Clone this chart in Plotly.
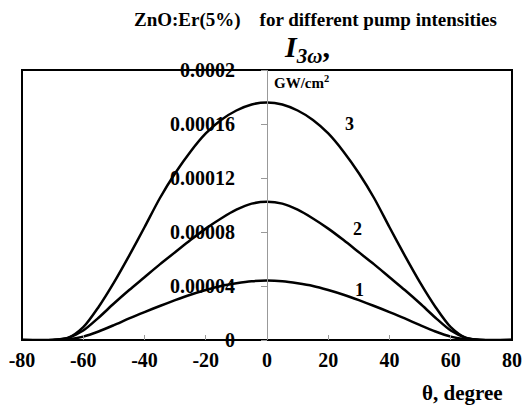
import plotly.graph_objects as go

theta = [-80, -70, -65, -60, -55, -50, -45, -40, -35, -30, -25, -20, -15, -10, -5, 0,
         5, 10, 15, 20, 25, 30, 35, 40, 45, 50, 55, 60, 65, 70, 80]

half1 = [0.44, 0.435, 0.42, 0.40, 0.37, 0.335, 0.295, 0.252, 0.207, 0.16, 0.11, 0.063, 0.025, 0.005, 0.0, 0.0]
half2 = [1.024, 1.01, 0.965, 0.90, 0.825, 0.74, 0.65, 0.56, 0.465, 0.37, 0.27, 0.165, 0.07, 0.015, 0.0, 0.0]
half3 = [1.76, 1.745, 1.70, 1.63, 1.53, 1.395, 1.235, 1.05, 0.835, 0.625, 0.425, 0.245, 0.095, 0.015, 0.0, 0.0]

def full(h):
    vals = [v * 1e-4 for v in h]
    return vals[:0:-1] + vals

curve1 = full(half1)
curve2 = full(half2)
curve3 = full(half3)

x_ticks = [-80, -60, -40, -20, 0, 20, 40, 60, 80]
y_ticks = [0, 0.00004, 0.00008, 0.00012, 0.00016, 0.0002]
y_tick_text = ["0", "0.00004", "0.00008", "0.00012", "0.00016", "0.0002"]
curve_labels = ["1", "2", "3"]

FONT = "'Liberation Serif', 'Times New Roman', serif"

fig = go.Figure()
for c in (curve1, curve2, curve3):
    fig.add_trace(go.Scatter(x=theta, y=c, mode="lines",
                             line=dict(color="black", width=2.5, shape="spline", smoothing=0.8),
                             showlegend=False, hoverinfo="skip"))

fig.update_layout(
    width=523, height=408,
    margin=dict(l=22, r=11, t=70, b=68, autoexpand=False),
    paper_bgcolor="white", plot_bgcolor="white",
    font=dict(family=FONT, color="black"),
    xaxis=dict(range=[-80, 80], tickvals=x_ticks, ticktext=[str(v) for v in x_ticks],
               showgrid=False, zeroline=False, showline=False, automargin=False,
               ticks="inside", ticklen=5, tickcolor="#999999", tickwidth=1,
               ticklabelstandoff=6,
               tickfont=dict(family=FONT, size=20, color="black", weight="bold")),
    yaxis=dict(range=[0, 0.0002], tickvals=y_ticks, ticktext=y_tick_text,
               anchor="free", position=0.5, showgrid=False, zeroline=False, automargin=False,
               showline=True, linecolor="#999999", linewidth=1,
               ticks="outside", ticklen=6, tickcolor="#999999", tickwidth=1,
               ticklabelstandoff=22,
               tickfont=dict(family=FONT, size=20, color="black", weight="bold")),
)

fig.add_shape(type="rect", xref="paper", yref="paper", x0=0, x1=1, y0=0, y1=1,
              line=dict(color="black", width=2), layer="below")

fig.add_annotation(xref="paper", yref="paper", x=0.598, y=1.0, yshift=50, xanchor="center", yanchor="middle",
                   text="ZnO:Er(5%)&nbsp;&nbsp;&nbsp;&nbsp;for different pump intensities", showarrow=False,
                   font=dict(family=FONT, size=19, color="black", weight="bold"))

fig.add_annotation(xref="paper", yref="paper", x=0.5, y=1.0, xshift=15, yshift=21, xanchor="left", yanchor="middle",
                   text="<i>I</i><sub><i>3ω</i></sub>,", showarrow=False,
                   font=dict(family=FONT, size=30, color="black", weight="bold"))
fig.add_annotation(xref="paper", yref="paper", x=0.5, y=1.0, xshift=5, yshift=-12, xanchor="left", yanchor="middle",
                   text="GW/cm<sup>2</sup>", showarrow=False,
                   font=dict(family=FONT, size=15, color="black", weight="bold"))

fig.add_annotation(xref="paper", yref="paper", x=1.0, y=0, xshift=-7, yshift=-53, xanchor="right", yanchor="middle",
                   text="θ, degree", showarrow=False,
                   font=dict(family=FONT, size=21, color="black", weight="bold"))

label_pos = [(30.1, 0.000037), (29.4, 0.0000822), (26.8, 0.00016)]
for txt, (lx, ly) in zip(curve_labels, label_pos):
    fig.add_annotation(x=lx, y=ly, text=txt, showarrow=False,
                       font=dict(family=FONT, size=18, color="black", weight="bold"))

fig.write_html("out.html")
